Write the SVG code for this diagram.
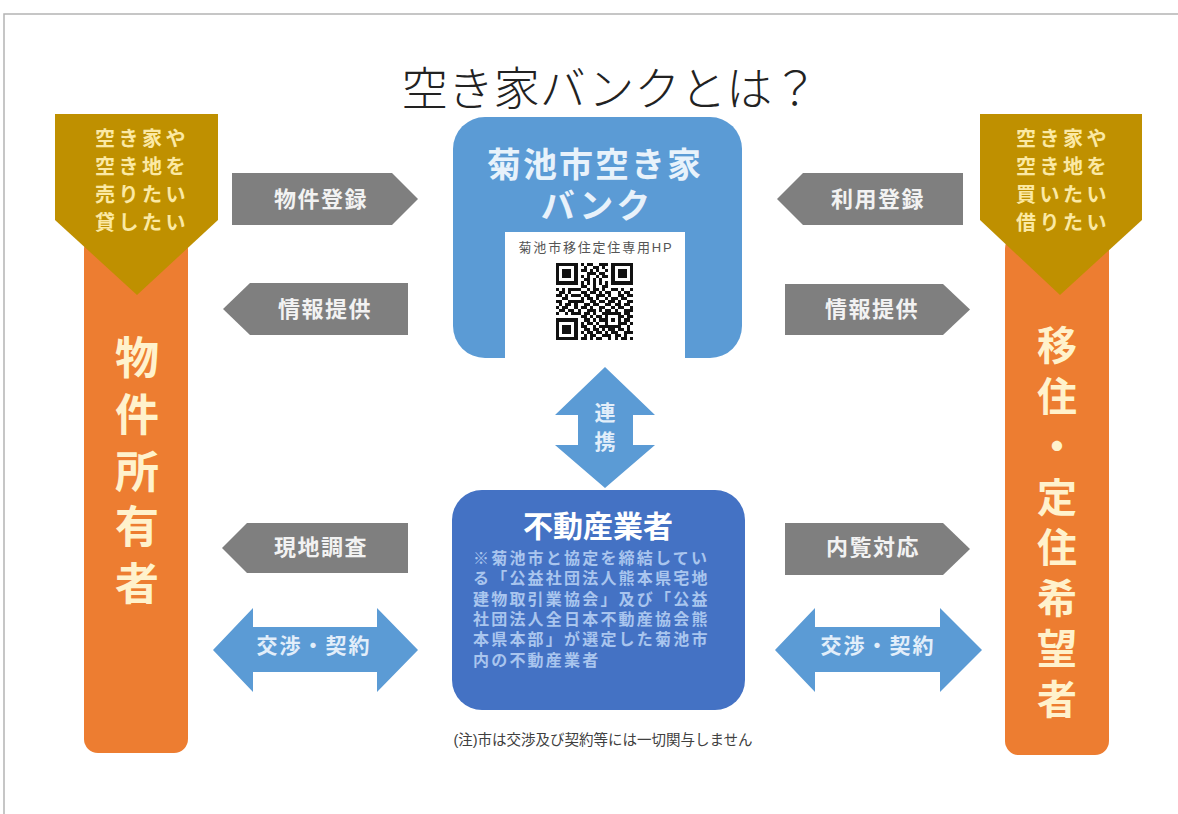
<svg xmlns="http://www.w3.org/2000/svg" width="1178" height="814" viewBox="0 0 1178 814">
<style>
text{font-family:"Liberation Sans","Noto Sans CJK JP",sans-serif;}
.gold{fill:#bf9000;}
.orange{fill:#ed7d31;}
.goldtxt{fill:#fbe9a4;font-size:20px;font-weight:bold;letter-spacing:3.5px;text-anchor:middle;}
.coltxt{fill:#fff2cc;font-size:44px;font-weight:bold;text-anchor:middle;}
.gray{fill:#7f7f7f;}
.graytxt{fill:#f2f2f2;font-size:22px;font-weight:bold;letter-spacing:1.5px;text-anchor:middle;}
.blue{fill:#5b9bd5;}
.bluetxt{fill:#e2eefa;font-size:21px;font-weight:bold;letter-spacing:2px;text-anchor:middle;}
.body{fill:#a9c5ee;font-size:16px;font-weight:bold;letter-spacing:2.2px;}
</style>
<rect width="1178" height="814" fill="#ffffff"/>
<path d="M4 814V14H1178" fill="none" stroke="#b4b4b4" stroke-width="1.5"/>
<text id="title" x="610" y="105" text-anchor="middle" font-size="46" font-weight="300" fill="#222222">空き家バンクとは？</text>

<g id="node-owner">
<rect x="84" y="235" width="104" height="518" rx="14" class="orange"/>
<path d="M55 114H218V220L137 295L55 220Z" class="gold"/>
<text class="goldtxt"><tspan x="142" y="146">空き家や</tspan><tspan x="142" y="174">空き地を</tspan><tspan x="142" y="202">売りたい</tspan><tspan x="142" y="230">貸したい</tspan></text>
<text class="coltxt"><tspan x="137" y="374">物</tspan><tspan x="137" y="431">件</tspan><tspan x="137" y="488">所</tspan><tspan x="137" y="543">有</tspan><tspan x="137" y="600">者</tspan></text>
</g>

<g id="node-seeker">
<rect x="1005" y="235" width="104" height="520" rx="14" class="orange"/>
<path d="M980 114H1142V220L1060 295L980 220Z" class="gold"/>
<text class="goldtxt"><tspan x="1063" y="146">空き家や</tspan><tspan x="1063" y="174">空き地を</tspan><tspan x="1063" y="202">買いたい</tspan><tspan x="1063" y="230">借りたい</tspan></text>
<text class="coltxt" style="font-size:40px"><tspan x="1057" y="360">移</tspan><tspan x="1057" y="411">住</tspan><tspan x="1057" y="461">・</tspan><tspan x="1057" y="512">定</tspan><tspan x="1057" y="562">住</tspan><tspan x="1057" y="613">希</tspan><tspan x="1057" y="663">望</tspan><tspan x="1057" y="714">者</tspan></text>
</g>

<g id="node-bank">
<rect x="453" y="117" width="289" height="241" rx="32" class="blue"/>
<text x="595" y="177" text-anchor="middle" font-size="34" font-weight="bold" letter-spacing="2" fill="#e8f2fb">菊池市空き家</text>
<text x="597" y="218" text-anchor="middle" font-size="34" font-weight="bold" letter-spacing="3" fill="#e8f2fb">バンク</text>
<rect x="505" y="232" width="180" height="126" fill="#ffffff"/>
<text x="596" y="252" text-anchor="middle" font-size="13" letter-spacing="1.8" fill="#555555">菊池市移住定住専用HP</text>
<path transform="translate(556 263) scale(3.08)" fill="#111111" shape-rendering="crispEdges" d="M0 0h7v1h-7zM8 0h1v1h-1zM10 0h2v1h-2zM14 0h3v1h-3zM18 0h7v1h-7zM0 1h1v1h-1zM6 1h1v1h-1zM9 1h1v1h-1zM12 1h2v1h-2zM15 1h1v1h-1zM18 1h1v1h-1zM24 1h1v1h-1zM0 2h1v1h-1zM2 2h3v1h-3zM6 2h1v1h-1zM8 2h2v1h-2zM11 2h1v1h-1zM13 2h1v1h-1zM16 2h1v1h-1zM18 2h1v1h-1zM20 2h3v1h-3zM24 2h1v1h-1zM0 3h1v1h-1zM2 3h3v1h-3zM6 3h1v1h-1zM10 3h3v1h-3zM14 3h2v1h-2zM18 3h1v1h-1zM20 3h3v1h-3zM24 3h1v1h-1zM0 4h1v1h-1zM2 4h3v1h-3zM6 4h1v1h-1zM8 4h1v1h-1zM10 4h1v1h-1zM13 4h1v1h-1zM15 4h2v1h-2zM18 4h1v1h-1zM20 4h3v1h-3zM24 4h1v1h-1zM0 5h1v1h-1zM6 5h1v1h-1zM9 5h2v1h-2zM12 5h1v1h-1zM14 5h1v1h-1zM18 5h1v1h-1zM24 5h1v1h-1zM0 6h7v1h-7zM8 6h1v1h-1zM10 6h1v1h-1zM12 6h1v1h-1zM14 6h1v1h-1zM16 6h1v1h-1zM18 6h7v1h-7zM8 7h2v1h-2zM12 7h1v1h-1zM15 7h2v1h-2zM0 8h1v1h-1zM2 8h1v1h-1zM4 8h4v1h-4zM10 8h1v1h-1zM12 8h2v1h-2zM15 8h1v1h-1zM18 8h2v1h-2zM21 8h1v1h-1zM24 8h1v1h-1zM1 9h2v1h-2zM4 9h1v1h-1zM8 9h2v1h-2zM11 9h2v1h-2zM14 9h1v1h-1zM16 9h2v1h-2zM20 9h1v1h-1zM22 9h2v1h-2zM0 10h2v1h-2zM3 10h1v1h-1zM5 10h3v1h-3zM9 10h2v1h-2zM13 10h3v1h-3zM17 10h1v1h-1zM20 10h2v1h-2zM23 10h2v1h-2zM2 11h2v1h-2zM8 11h1v1h-1zM10 11h2v1h-2zM13 11h1v1h-1zM16 11h1v1h-1zM18 11h2v1h-2zM21 11h2v1h-2zM0 12h2v1h-2zM4 12h5v1h-5zM11 12h2v1h-2zM14 12h2v1h-2zM17 12h2v1h-2zM20 12h1v1h-1zM23 12h2v1h-2zM1 13h1v1h-1zM3 13h2v1h-2zM6 13h1v1h-1zM9 13h2v1h-2zM12 13h2v1h-2zM16 13h2v1h-2zM19 13h2v1h-2zM22 13h2v1h-2zM0 14h1v1h-1zM2 14h2v1h-2zM6 14h1v1h-1zM8 14h2v1h-2zM11 14h1v1h-1zM14 14h2v1h-2zM18 14h1v1h-1zM20 14h2v1h-2zM24 14h1v1h-1zM1 15h2v1h-2zM4 15h2v1h-2zM7 15h1v1h-1zM10 15h3v1h-3zM14 15h1v1h-1zM16 15h2v1h-2zM19 15h1v1h-1zM22 15h3v1h-3zM0 16h1v1h-1zM3 16h1v1h-1zM5 16h3v1h-3zM9 16h2v1h-2zM12 16h1v1h-1zM15 16h6v1h-6zM22 16h2v1h-2zM8 17h2v1h-2zM11 17h1v1h-1zM13 17h2v1h-2zM16 17h1v1h-1zM20 17h2v1h-2zM23 17h2v1h-2zM0 18h7v1h-7zM9 18h2v1h-2zM12 18h1v1h-1zM14 18h3v1h-3zM18 18h1v1h-1zM20 18h1v1h-1zM22 18h2v1h-2zM0 19h1v1h-1zM6 19h1v1h-1zM8 19h1v1h-1zM10 19h2v1h-2zM13 19h1v1h-1zM16 19h1v1h-1zM20 19h3v1h-3zM24 19h1v1h-1zM0 20h1v1h-1zM2 20h3v1h-3zM6 20h1v1h-1zM8 20h2v1h-2zM12 20h1v1h-1zM14 20h7v1h-7zM23 20h1v1h-1zM0 21h1v1h-1zM2 21h3v1h-3zM6 21h1v1h-1zM9 21h2v1h-2zM12 21h2v1h-2zM15 21h1v1h-1zM17 21h2v1h-2zM20 21h2v1h-2zM23 21h1v1h-1zM0 22h1v1h-1zM2 22h3v1h-3zM6 22h1v1h-1zM8 22h1v1h-1zM10 22h2v1h-2zM13 22h2v1h-2zM16 22h1v1h-1zM18 22h2v1h-2zM22 22h3v1h-3zM0 23h1v1h-1zM6 23h1v1h-1zM9 23h1v1h-1zM11 23h2v1h-2zM15 23h3v1h-3zM19 23h2v1h-2zM22 23h1v1h-1zM0 24h7v1h-7zM8 24h2v1h-2zM11 24h1v1h-1zM13 24h2v1h-2zM17 24h1v1h-1zM19 24h1v1h-1zM21 24h2v1h-2zM24 24h1v1h-1z"/>
</g>

<g id="node-agent">
<rect x="452" y="490" width="293" height="220" rx="30" fill="#4472c4"/>
<text x="598" y="537" text-anchor="middle" font-size="30" font-weight="bold" fill="#ffffff">不動産業者</text>
<text class="body"><tspan x="473" y="564">※菊池市と協定を締結してい</tspan><tspan x="473" y="584">る「公益社団法人熊本県宅地</tspan><tspan x="473" y="605">建物取引業協会」及び「公益</tspan><tspan x="473" y="625">社団法人全日本不動産協会熊</tspan><tspan x="473" y="645">本県本部」が選定した菊池市</tspan><tspan x="473" y="666">内の不動産業者</tspan></text>
</g>

<g id="connectors">
<polygon class="gray" points="232,173 392,173 418,199 392,225 232,225"/>
<text class="graytxt" x="321" y="207">物件登録</text>
<polygon class="gray" points="223,309 250,283 408,283 408,335 250,335"/>
<text class="graytxt" x="325" y="317">情報提供</text>
<polygon class="gray" points="777,199 803,173 963,173 963,225 803,225"/>
<text class="graytxt" x="878" y="207">利用登録</text>
<polygon class="gray" points="785,284 943,284 970,309.5 943,335 785,335"/>
<text class="graytxt" x="872" y="317">情報提供</text>
<polygon class="gray" points="222,548 247,523 408,523 408,573 247,573"/>
<text class="graytxt" x="321" y="555">現地調査</text>
<polygon class="gray" points="785,523 943,523 970,549 943,575 785,575"/>
<text class="graytxt" x="873" y="555">内覧対応</text>
<polygon class="blue" points="213,650 253,608 253,627 377,627 377,608 418,650 377,692 377,672 253,672 253,692"/>
<text class="bluetxt" x="314" y="653">交渉・契約</text>
<polygon class="blue" points="775,650 815,608 815,627 940,627 940,608 982,650 940,692 940,672 815,672 815,692"/>
<text class="bluetxt" x="878" y="653">交渉・契約</text>
<polygon class="blue" points="605,367 655,415 633,415 633,445 655,445 605,488 555,445 578,445 578,415 555,415"/>
<text x="605" y="420" text-anchor="middle" font-size="21" font-weight="bold" fill="#e2eefa">連</text>
<text x="605" y="449" text-anchor="middle" font-size="21" font-weight="bold" fill="#e2eefa">携</text>
</g>

<text id="note" x="603" y="745" text-anchor="middle" font-size="14.5" fill="#404040">(注)市は交渉及び契約等には一切関与しません</text>
</svg>
